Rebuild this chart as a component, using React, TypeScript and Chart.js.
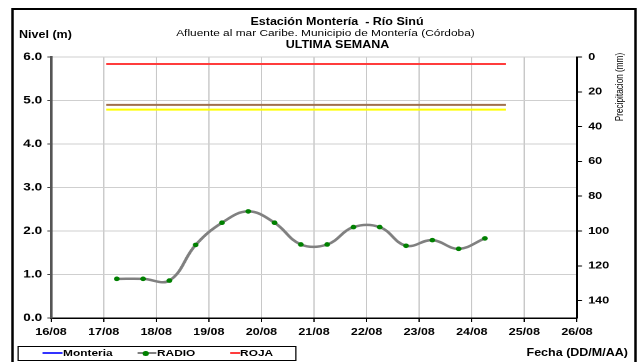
import React, { useEffect, useRef } from "react";
import { Chart, registerables } from "chart.js";

Chart.register(...registerables);

// ---- data ----
const dateLabels = ["16/08", "17/08", "18/08", "19/08", "20/08", "21/08", "22/08", "23/08", "24/08", "25/08", "26/08"];
const firstDay = 16;
const lastDay = 26;
const radioX = [17.25, 17.75, 18.25, 18.75, 19.25, 19.75, 20.25, 20.75, 21.25, 21.75, 22.25, 22.75, 23.25, 23.75, 24.25];
const radioLevel = [0.9, 0.9, 0.86, 1.68, 2.19, 2.45, 2.19, 1.69, 1.69, 2.09, 2.09, 1.66, 1.79, 1.59, 1.83];
const monteriaLevel: { x: number; y: number }[] = [];
const alertStart = 17.05;
const alertEnd = 24.65;
const rojaLevel = 5.84;
const naranjaLevel = 4.9;
const amarillaLevel = 4.79;
const levelMin = 0;
const levelMax = 6;
const precipMin = 0;
const precipMax = 150;
const precipLastTick = 140;

const SX = 638 / 510;
const FONT = '"Liberation Sans", Arial, sans-serif';

export default function App() {
  const ref = useRef<HTMLCanvasElement>(null);

  useEffect(() => {
    const tickFont = { family: FONT, size: 10, weight: "bold" as const };
    const chart = new Chart(ref.current!, {
      type: "line",
      data: {
        datasets: [
          {
            label: "RADIO",
            data: radioX.map((x, i) => ({ x, y: radioLevel[i] })),
            borderColor: "#808080",
            borderWidth: 2.5,
            pointBackgroundColor: "#008000",
            pointBorderColor: "#008000",
            pointRadius: 2.3,
            pointBorderWidth: 0,
            tension: 0.4,
            yAxisID: "y",
          },
          {
            label: "Monteria",
            data: monteriaLevel,
            borderColor: "#3333ff",
            borderWidth: 2,
            pointRadius: 0,
            yAxisID: "y",
          },
          {
            label: "ROJA",
            data: [
              { x: alertStart, y: rojaLevel },
              { x: alertEnd, y: rojaLevel },
            ],
            borderColor: "#ff3c3c",
            borderWidth: 2,
            pointRadius: 0,
            yAxisID: "y",
          },
          {
            label: "NARANJA",
            data: [
              { x: alertStart, y: naranjaLevel },
              { x: alertEnd, y: naranjaLevel },
            ],
            borderColor: "#a0704c",
            borderWidth: 2,
            pointRadius: 0,
            yAxisID: "y",
          },
          {
            label: "AMARILLA",
            data: [
              { x: alertStart, y: amarillaLevel },
              { x: alertEnd, y: amarillaLevel },
            ],
            borderColor: "#ffff00",
            borderWidth: 2,
            pointRadius: 0,
            yAxisID: "y",
          },
        ],
      },
      options: {
        animation: false,
        responsive: false,
        devicePixelRatio: 2,
        layout: { padding: { top: 57, left: 0, right: 0, bottom: 0 } },
        plugins: { legend: { display: false }, tooltip: { enabled: false } },
        scales: {
          x: {
            type: "linear",
            position: "bottom",
            min: firstDay,
            max: lastDay,
            ticks: {
              stepSize: 1,
              autoSkip: false,
              maxRotation: 0,
              padding: 4,
              color: "#000",
              font: tickFont,
              callback: (v: any) => dateLabels[Math.round(Number(v) - firstDay)] ?? "",
            },
            grid: { color: "#c8c8c8", tickColor: "#000", tickLength: 4, lineWidth: 1 },
            border: { color: "#000", width: 1.5 },
            afterFit: (s: any) => {
              s.height = 44;
            },
          },
          y: {
            position: "left",
            min: levelMin,
            max: levelMax,
            ticks: {
              stepSize: 1,
              padding: 4,
              color: "#000",
              font: { family: FONT, size: 11, weight: "bold" as const },
              callback: (v: any) => Number(v).toFixed(1),
            },
            grid: { color: "#cfcfcf", tickColor: "#444", tickLength: 3, lineWidth: 1 },
            border: { color: "#555", width: 2 },
            afterFit: (s: any) => {
              s.width = 40.8;
            },
          },
          y2: {
            position: "right",
            min: precipMin,
            max: precipMax,
            reverse: true,
            ticks: {
              stepSize: 20,
              padding: 5,
              color: "#000",
              font: tickFont,
            },
            afterBuildTicks: (s: any) => {
              s.ticks = s.ticks.filter((t: any) => t.value <= precipLastTick);
            },
            grid: { drawOnChartArea: false, tickColor: "#000", tickLength: 4 },
            border: { color: "#000", width: 1.5 },
            afterFit: (s: any) => {
              s.width = 48.8;
            },
          },
        },
      },
    });
    return () => chart.destroy();
  }, []);

  const centered = (cx: number, cy: number, size: number, bold: boolean, text: string) => (
    <div
      style={{
        position: "absolute",
        left: cx - 200,
        width: 400,
        top: cy - 7,
        height: 14,
        lineHeight: "14px",
        textAlign: "center",
        fontSize: size,
        fontWeight: bold ? "bold" : "normal",
        whiteSpace: "pre",
      }}
    >
      {text}
    </div>
  );

  const leftText = (x: number, cy: number, size: number, text: string) => (
    <div
      style={{
        position: "absolute",
        left: x,
        top: cy - 7,
        height: 14,
        lineHeight: "14px",
        fontSize: size,
        fontWeight: "bold",
        whiteSpace: "nowrap",
      }}
    >
      {text}
    </div>
  );

  const line = (x1: number, x2: number, y: number, color: string) => (
    <div style={{ position: "absolute", left: x1, width: x2 - x1, top: y - 1, height: 2, background: color }} />
  );

  return (
    <div style={{ position: "fixed", left: 0, top: 0, width: 638, height: 362, overflow: "hidden", background: "#fff" }}>
      <div
        style={{
          position: "absolute",
          left: 0,
          top: 0,
          width: 510,
          height: 362,
          transform: `scaleX(${SX})`,
          transformOrigin: "0 0",
          fontFamily: FONT,
          color: "#000",
        }}
      >
        <canvas ref={ref} width={510} height={362} style={{ position: "absolute", left: 0, top: 0 }} />
        <div
          style={{
            position: "absolute",
            left: 8.5,
            top: 7.5,
            width: 500.5,
            height: 370,
            boxSizing: "border-box",
            border: "2.6px solid #000",
            pointerEvents: "none",
          }}
        />
        {centered(269.4, 21.7, 10, true, "Estación Montería  - Río Sinú")}
        {centered(260.2, 33.3, 9.5, false, "Afluente al mar Caribe. Municipio de Montería (Córdoba)")}
        {centered(269.8, 45, 10, true, "ULTIMA SEMANA")}
        {leftText(15.2, 34.5, 10, "Nivel (m)")}
        <div
          style={{
            position: "absolute",
            left: 495.6 - 60,
            top: 86.7 - 6,
            width: 120,
            height: 12,
            lineHeight: "12px",
            textAlign: "center",
            fontSize: 8.2,
            whiteSpace: "nowrap",
            transform: "rotate(-90deg)",
          }}
        >
          Precipitacion (mm)
        </div>
        <div
          style={{
            position: "absolute",
            left: 13.6,
            top: 345.7,
            width: 223,
            height: 15,
            boxSizing: "border-box",
            border: "1px solid #000",
          }}
        />
        {line(33.6, 49.6, 353.2, "#3333ff")}
        {leftText(50.4, 353.2, 9.5, "Monteria")}
        {line(109.5, 124.7, 353.2, "#808080")}
        <div
          style={{
            position: "absolute",
            left: 116.7 - 2.3,
            top: 353.2 - 2.5,
            width: 4.6,
            height: 5,
            borderRadius: "50%",
            background: "#008000",
          }}
        />
        {leftText(125.5, 353.2, 9.5, "RADIO")}
        {line(183.9, 191.9, 353.2, "#ff3c3c")}
        {leftText(191.9, 353.2, 9.5, "ROJA")}
        <div
          style={{
            position: "absolute",
            right: 8,
            top: 352.5 - 7,
            height: 14,
            lineHeight: "14px",
            fontSize: 10,
            fontWeight: "bold",
            whiteSpace: "nowrap",
          }}
        >
          Fecha (DD/M/AA)
        </div>
      </div>
    </div>
  );
}
